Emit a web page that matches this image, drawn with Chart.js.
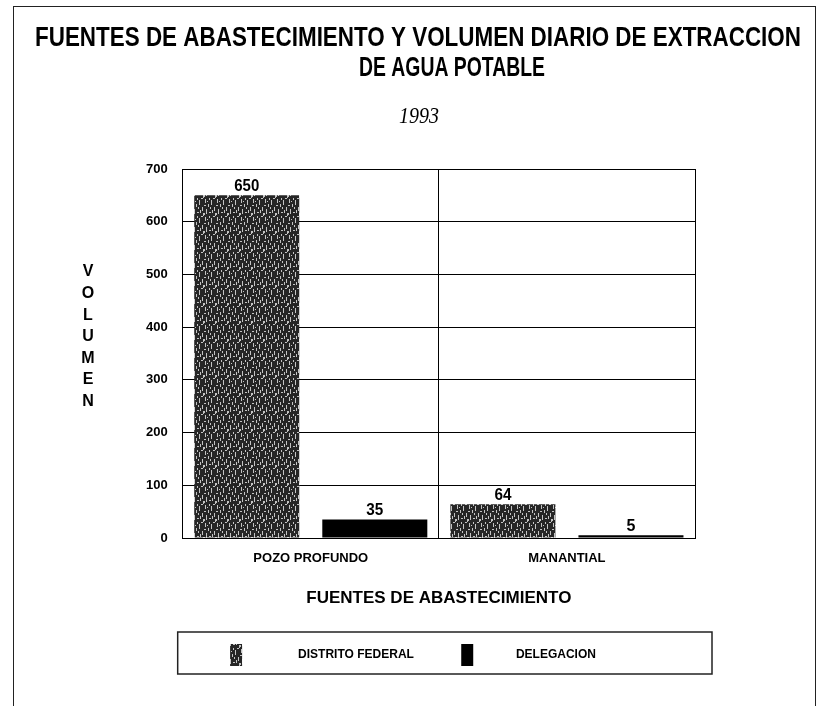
<!DOCTYPE html>
<html>
<head>
<meta charset="utf-8">
<script src="https://cdn.jsdelivr.net/npm/chart.js@4.4.1/dist/chart.umd.min.js"></script>
<style>
  body{margin:0;background:#fff;}
  #frame{position:absolute;left:13px;top:6px;width:801px;height:760px;border:1px solid #222;}
  #wrap{position:absolute;left:0;top:0;width:824px;height:706px;}
</style>
</head>
<body>
<div id="frame"></div>
<div id="wrap"><canvas id="chart" width="824" height="706"></canvas></div>
<script>
// DATA
const categories = ['POZO PROFUNDO', 'MANANTIAL'];
const distritoFederal = [650, 64];
const delegacion = [35, 5];
const yTicks = [0, 100, 200, 300, 400, 500, 600, 700];
const titleLines = ['FUENTES DE ABASTECIMIENTO Y VOLUMEN DIARIO DE EXTRACCION', 'DE AGUA POTABLE'];
const yearLabel = '1993';

const SANS = '"Liberation Sans", Arial, sans-serif';

// grainy fill like the photocopied bars
function makeTexture(){
  const c = document.createElement('canvas');
  c.width = 12; c.height = 18;
  const g = c.getContext('2d');
  g.fillStyle = '#262626';
  g.fillRect(0,0,12,18);
  g.fillStyle = '#c4c4c4';
  const specks = [[1,1,1,4],[4,6,1,3],[7,2,1,5],[10,9,1,4],[2,11,1,5],[5,14,2,1],[8,12,1,3],[0,7,2,1],[9,0,2,1],[6,9,1,2],[3,3,1,1],[11,15,1,3],[5,0,1,2],[0,15,1,2]];
  specks.forEach(s => g.fillRect(s[0],s[1],s[2],s[3]));
  return g.createPattern(c,'repeat');
}
const texture = makeTexture();

// condensed text: canvas squeezes it when wider than maxWidth
function squeezed(ctx, text, x, y, font, maxW){
  ctx.font = font;
  ctx.fillText(text, x, y, maxW);
}

const extras = {
  id:'extras',
  afterDatasetsDraw(chart){
    const ctx = chart.ctx;
    ctx.save();
    ctx.fillStyle = '#000';
    ctx.textAlign = 'center';
    ctx.textBaseline = 'bottom';
    chart.data.datasets.forEach((ds,i) => {
      chart.getDatasetMeta(i).data.forEach((bar,j) => {
        squeezed(ctx, String(ds.data[j]), bar.x, bar.y - 1, 'bold 16px ' + SANS, 8 * String(ds.data[j]).length + 1);
      });
    });
    ctx.restore();
  },
  afterDraw(chart){
    const ctx = chart.ctx;
    const a = chart.chartArea;
    ctx.save();
    ctx.fillStyle = '#000';
    ctx.textAlign = 'center';
    ctx.textBaseline = 'middle';
    // titles
    squeezed(ctx, titleLines[0], 418, 38, 'bold 28px ' + SANS, 766);
    squeezed(ctx, titleLines[1], 452, 68, 'bold 28px ' + SANS, 186);
    squeezed(ctx, yearLabel, 419, 117, 'italic 24px "Liberation Serif", serif', 40);
    // stacked y title
    const word = 'VOLUMEN';
    for (let i = 0; i < word.length; i++) {
      ctx.font = 'bold 16px ' + SANS;
      ctx.fillText(word[i], 88, 272 + i * 21.6);
    }
    // legend frame
    const lg = chart.legend;
    ctx.strokeStyle = '#222';
    ctx.lineWidth = 1.5;
    ctx.strokeRect(a.left - 5, lg.top + 2, a.right - a.left + 22, lg.height - 4);
    ctx.restore();
  }
};

new Chart(document.getElementById('chart'), {
  type:'bar',
  data:{
    labels:categories,
    datasets:[
      {label:'DISTRITO FEDERAL', data:distritoFederal, backgroundColor:texture},
      {label:'DELEGACION', data:delegacion, backgroundColor:'#000'}
    ]
  },
  options:{
    responsive:false,
    animation:false,
    devicePixelRatio:1,
    layout:{padding:{left:131, right:129, top:169, bottom:30}},
    categoryPercentage:1.0,
    barPercentage:0.82,
    scales:{
      x:{
        grid:{color:'#000', lineWidth:1, drawTicks:false},
        border:{color:'#000'},
        ticks:{color:'#000', padding:13, font:{family:SANS, weight:'bold', size:13}},
        title:{display:true, text:'FUENTES DE ABASTECIMIENTO', color:'#000',
               font:{family:SANS, weight:'bold', size:17}, padding:{top:9, bottom:21}}
      },
      y:{
        min:0, max:700,
        afterBuildTicks(axis){ axis.ticks = yTicks.map(v => ({value:v})); },
        grid:{color:'#000', lineWidth:1, drawTicks:false},
        border:{color:'#000'},
        ticks:{color:'#000', padding:15, font:{family:SANS, weight:'bold', size:13}}
      }
    },
    plugins:{
      title:{display:false},
      legend:{position:'bottom',
        labels:{color:'#000', boxWidth:12, boxHeight:22, padding:14,
                font:{family:SANS, weight:'bold', size:12},
                generateLabels(chart){
                  const pre = ['               ', '           '];
                  const post = ['          ', ''];
                  return chart.data.datasets.map((ds,i) => ({
                    text:pre[i] + ds.label + post[i],
                    fillStyle:ds.backgroundColor, strokeStyle:'#000', lineWidth:0,
                    fontColor:'#000', datasetIndex:i, hidden:false
                  }));
                }}},
      tooltip:{enabled:false}
    }
  },
  plugins:[extras]
});
</script>
</body>
</html>
